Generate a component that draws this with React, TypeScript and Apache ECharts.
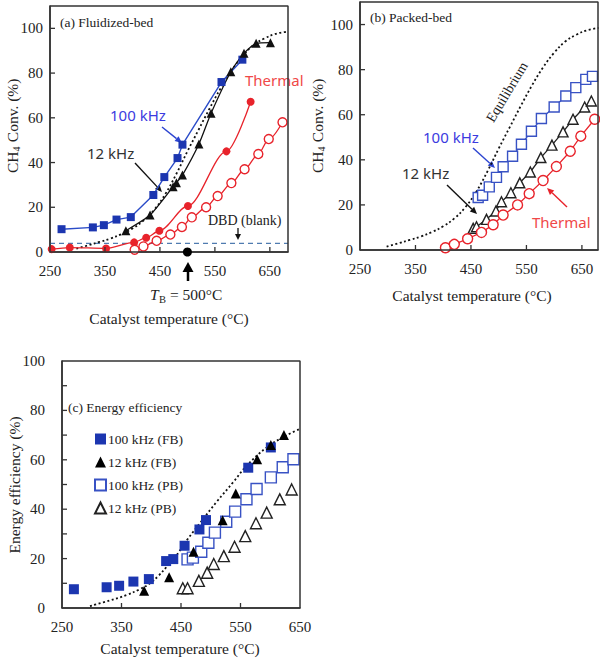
import React, { useEffect, useRef } from "react";
import * as echarts from "echarts";

// ---------- data ----------
// equilibrium CH4 conversion (dotted)
const eqT = [298, 320, 340, 360, 380, 400, 420, 440, 460, 480, 500, 520, 540, 560, 580, 600, 620, 640, 660, 680];
const eqV = [1.5, 3, 4.5, 6, 8, 10.5, 14, 19, 26, 35, 45, 54.5, 64, 73, 81, 87.5, 92.5, 95.5, 97.5, 98.5];

// (a) fluidized bed
const fb100T = [271, 328, 348, 371, 397, 438, 458, 482, 491, 562, 600];
const fb100V = [10.2, 11, 12, 14.5, 15.6, 25.5, 33.5, 42, 48, 76, 86];
const fb12T = [388, 432, 474, 480, 491, 521, 543, 579, 603, 625, 651];
const fb12V = [9.5, 16.5, 29.2, 31, 34.4, 48.3, 62, 80.6, 88.9, 93.3, 93.6];
const fbThT = [253, 286, 352, 403, 425, 449, 501, 571, 615];
const fbThV = [1.3, 2, 1.6, 4.3, 6.4, 9.5, 20.6, 45, 67.2];
const dbdLevel = 3.9;
const tbPoint = [500, 0];

// packed bed (thermal, open circles) used in (a) and (b)
const pbThT = [404, 420, 444, 469, 490, 508, 534, 555, 580, 604, 629, 648, 673];
const pbThV = [1, 2.5, 5, 7.8, 11.2, 15.5, 20, 25, 30.8, 37, 43.8, 50.5, 58];
// (b) packed bed
const pb12T = [454, 460, 478, 495, 505, 522, 538, 557, 576, 596, 616, 634, 655, 667];
const pb12V = [9.6, 10.3, 13.6, 17.3, 21.4, 25.4, 29.8, 34.6, 41, 46.5, 52.4, 58, 63.4, 66.1];
const pb100T = [463, 471, 483, 496, 508, 525, 541, 559, 577, 600, 621, 639, 657, 669];
const pb100V = [23.3, 24.3, 28, 32.2, 36.9, 41.6, 46.9, 52.7, 58.3, 63.4, 68.3, 72, 75.7, 77];

// (c) energy efficiency
const effEqT = [297, 330, 359, 380, 398, 412, 426, 443, 460, 482, 510, 538, 560, 594, 628, 650];
const effEqV = [0.8, 3, 5.3, 7.5, 10, 13, 16.7, 21.5, 27.5, 34.4, 43, 51, 57.5, 65, 70, 72.5];
const ef100fbT = [270, 325, 346, 370, 396, 425, 437, 456, 481, 492, 563, 601];
const ef100fbV = [7.6, 8.4, 9, 10.7, 11.7, 19, 19.8, 25.2, 31.8, 35.6, 56.8, 65];
const ef12fbT = [388, 430, 471, 520, 542, 578, 601, 623];
const ef12fbV = [7, 12.4, 22.8, 35.5, 46.4, 60.2, 66, 70];
const ef100pbT = [461, 470, 484, 496, 507, 526, 541, 560, 577, 601, 621, 639];
const ef100pbV = [19.7, 20.4, 22.8, 26.4, 30.5, 34.9, 39, 44, 48.2, 52.9, 57, 60.2];
const ef12pbT = [453, 461, 480, 494, 505, 522, 540, 558, 576, 594, 616, 636];
const ef12pbV = [8, 8, 11, 14.3, 17.8, 21, 24.8, 29.1, 34.3, 38.6, 44, 48];

const xLabelVals = [250, 350, 450, 550, 650];
const xTickVals = [350, 450, 550, 650];
const yTickValsAB = [20, 40, 60, 80, 100];
const yTickValsC = [10, 20, 30, 40, 50, 60, 70, 80, 90];

const legendNames = ["100 kHz (FB)", "12 kHz (FB)", "100 kHz (PB)", "12 kHz (PB)"];

const zip = (a: number[], b: number[]) => a.map((v, i) => [v, b[i]]);

const SERIF = "'Liberation Serif', 'Times New Roman', serif";
const SANS = "'Noto Sans', 'DejaVu Sans', sans-serif";
const BLUE = "#1c36b0";
const BLUE_LINE = "#2b4cc8";
const BLUE_OPEN = "#3852c4";
const RED = "#e8232b";
const BLACK = "#111";
const FRAME = "#333333";

const GRIDS = [
  { left: 50, top: 6, width: 238, height: 246 },
  { left: 360, top: 2, width: 238, height: 248 },
  { left: 62, top: 361, width: 238, height: 247 },
];
const X_RANGE = [[250, 683], [250, 679], [250, 650]];
const Y_RANGE = [[0, 110], [0, 110], [0, 100]];
const Y_TICKS = [yTickValsAB, yTickValsAB, yTickValsC];

function arrow(x1: number, y1: number, x2: number, y2: number, color: string, head = 7, w = 1.3, hw = 0.45) {
  const a = Math.atan2(y2 - y1, x2 - x1);
  const c = Math.cos(a), s = Math.sin(a);
  const bx = x2 - head * c, by = y2 - head * s;
  const px = -s * head * hw, py = c * head * hw;
  const qx = -s * w * 0.5, qy = c * w * 0.5;
  return [
    { type: "polygon", shape: { points: [[x1 + qx, y1 + qy], [bx + qx, by + qy], [bx - qx, by - qy], [x1 - qx, y1 - qy]] }, style: { fill: color } },
    { type: "polygon", shape: { points: [[x2, y2], [bx + px, by + py], [bx - px, by - py]] }, style: { fill: color } },
  ];
}

function txt(x: number, y: number, text: string, font: string, size: number, color = "#222", align = "left", extra: any = {}) {
  return {
    type: "text",
    x,
    y,
    ...extra,
    style: { text, fontFamily: font, fontSize: size, fill: color, align, verticalAlign: "middle", ...(extra.style || {}) },
  };
}

function ch4Title(x: number, y: number) {
  return {
    type: "group",
    x,
    y,
    rotation: Math.PI / 2,
    children: [
      txt(-48, 0, "CH", SERIF, 15.5),
      txt(-26.5, 4, "4", SERIF, 10),
      txt(-21, 0, " Conv. (%)", SERIF, 15.5),
    ],
  };
}

function xAxisCfg(grid: number) {
  return {
    type: "value",
    gridIndex: grid,
    min: X_RANGE[grid][0],
    max: X_RANGE[grid][1],
    splitLine: { show: false },
    axisLine: { show: true, onZero: false, lineStyle: { color: FRAME, width: 1.5 } },
    axisTick: { show: false },
    axisLabel: { customValues: xLabelVals, margin: 11, fontFamily: SERIF, fontSize: 15, color: "#222" },
  };
}

function yAxisCfg(grid: number, margin: number, interval: number) {
  return {
    type: "value",
    gridIndex: grid,
    min: Y_RANGE[grid][0],
    max: Y_RANGE[grid][1],
    interval,
    splitLine: { show: false },
    axisLine: { show: true, onZero: false, lineStyle: { color: FRAME, width: 1.5 } },
    axisTick: { show: false },
    axisLabel: {
      margin,
      fontFamily: SERIF,
      fontSize: 15,
      color: "#222",
      formatter: (v: number) => (v > 100 || v % 20 !== 0 ? "" : String(v)),
    },
  };
}

const openStyle = (c: string) => ({ color: "#fff", borderColor: c, borderWidth: 1.4, opacity: 1 });

// frame (box) and inward ticks of each panel drawn as series in the panel's own axes
function frameSeries(i: number) {
  const [x0, x1] = X_RANGE[i];
  const [y0, y1] = Y_RANGE[i];
  return [
    {
      name: "frame" + i, type: "line", xAxisIndex: i, yAxisIndex: i, silent: true, clip: false, symbol: "none",
      data: [[x0, y0], [x1, y0], [x1, y1], [x0, y1], [x0, y0]],
      lineStyle: { color: FRAME, width: 1.5 }, z: 10,
    },
    {
      name: "xt" + i, type: "scatter", xAxisIndex: i, yAxisIndex: i, silent: true, clip: false,
      data: xTickVals.filter((v) => v < x1).map((v) => [v, y0]),
      symbol: "rect", symbolSize: [1.3, 5], symbolOffset: [0, -2.5],
      itemStyle: { color: FRAME, opacity: 1 }, z: 10,
    },
    {
      name: "yt" + i, type: "scatter", xAxisIndex: i, yAxisIndex: i, silent: true, clip: false,
      data: Y_TICKS[i].map((v) => [x0, v]),
      symbol: "rect", symbolSize: [5, 1.3], symbolOffset: [2.5, 0],
      itemStyle: { color: FRAME, opacity: 1 }, z: 10,
    },
  ];
}

export default function App() {
  const ref = useRef<HTMLDivElement>(null);
  useEffect(() => {
    if (!ref.current) return;
    const chart = echarts.init(ref.current, null, { renderer: "svg" });

    const series: any[] = [
      ...frameSeries(0),
      ...frameSeries(1),
      ...frameSeries(2),
      // ---- (a) ----
      {
        name: "eqA", type: "line", xAxisIndex: 0, yAxisIndex: 0, data: zip(eqT, eqV), smooth: 0.4, symbol: "none",
        lineStyle: { color: BLACK, width: 1.8, type: [2, 2.5] }, z: 2,
      },
      {
        name: "dbd", type: "line", xAxisIndex: 0, yAxisIndex: 0, data: [[X_RANGE[0][0], dbdLevel], [X_RANGE[0][1], dbdLevel]], symbol: "none",
        lineStyle: { color: "#4f7bb0", width: 1.2, type: [5, 4] }, z: 1,
      },
      {
        name: "fb100", type: "line", xAxisIndex: 0, yAxisIndex: 0, data: zip(fb100T, fb100V), symbol: "rect", symbolSize: 8,
        itemStyle: { color: BLUE }, lineStyle: { color: BLUE_LINE, width: 1.4 }, z: 4,
      },
      {
        name: "fb12", type: "line", xAxisIndex: 0, yAxisIndex: 0, data: zip(fb12T, fb12V), symbol: "triangle", symbolSize: 9,
        smooth: 0.2, itemStyle: { color: BLACK }, lineStyle: { color: BLACK, width: 1.3 }, z: 4,
      },
      {
        name: "fbTh", type: "line", xAxisIndex: 0, yAxisIndex: 0, data: zip(fbThT, fbThV), symbol: "circle", symbolSize: 8,
        smooth: 0.3, smoothMonotone: "x", itemStyle: { color: RED }, lineStyle: { color: RED, width: 1.3 }, z: 4, clip: false,
      },
      {
        name: "pbThA", type: "line", xAxisIndex: 0, yAxisIndex: 0, data: zip(pbThT, pbThV), symbol: "circle", symbolSize: 9,
        smooth: 0.3, smoothMonotone: "x", itemStyle: openStyle(RED), lineStyle: { color: RED, width: 1.3 }, z: 4,
      },
      {
        name: "tb", type: "scatter", xAxisIndex: 0, yAxisIndex: 0, data: [tbPoint], symbol: "circle", symbolSize: 9,
        itemStyle: { color: "#000", opacity: 1 }, clip: false, z: 12,
      },
      // ---- (b) ----
      {
        name: "eqB", type: "line", xAxisIndex: 1, yAxisIndex: 1, data: zip(eqT, eqV), smooth: 0.4, symbol: "none",
        lineStyle: { color: BLACK, width: 1.8, type: [2, 2.5] }, z: 2,
      },
      {
        name: "pb100", type: "line", xAxisIndex: 1, yAxisIndex: 1, data: zip(pb100T, pb100V), symbol: "rect", symbolSize: 10,
        itemStyle: openStyle(BLUE_OPEN), lineStyle: { color: BLUE_OPEN, width: 1.3 }, z: 4,
      },
      {
        name: "pb12", type: "line", xAxisIndex: 1, yAxisIndex: 1, data: zip(pb12T, pb12V), symbol: "triangle", symbolSize: 10,
        itemStyle: openStyle("#222"), lineStyle: { color: "#222", width: 1.3 }, z: 4,
      },
      {
        name: "pbThB", type: "line", xAxisIndex: 1, yAxisIndex: 1, data: zip(pbThT, pbThV), symbol: "circle", symbolSize: 10,
        itemStyle: openStyle(RED), lineStyle: { color: RED, width: 1.3 }, z: 4,
      },
      // ---- (c) ----
      {
        name: "effEq", type: "line", xAxisIndex: 2, yAxisIndex: 2, data: zip(effEqT, effEqV), smooth: 0.4, symbol: "none",
        lineStyle: { color: BLACK, width: 1.8, type: [2, 2.5] }, z: 2,
      },
      {
        name: legendNames[0], type: "scatter", xAxisIndex: 2, yAxisIndex: 2, data: zip(ef100fbT, ef100fbV), symbol: "rect",
        symbolSize: 10, itemStyle: { color: BLUE, opacity: 1 }, z: 4,
      },
      {
        name: legendNames[1], type: "scatter", xAxisIndex: 2, yAxisIndex: 2, data: zip(ef12fbT, ef12fbV), symbol: "triangle",
        symbolSize: 10, itemStyle: { color: "#000", opacity: 1 }, z: 5,
      },
      {
        name: legendNames[2], type: "scatter", xAxisIndex: 2, yAxisIndex: 2, data: zip(ef100pbT, ef100pbV), symbol: "rect",
        symbolSize: 11, itemStyle: openStyle(BLUE_OPEN), z: 4,
      },
      {
        name: legendNames[3], type: "scatter", xAxisIndex: 2, yAxisIndex: 2, data: zip(ef12pbT, ef12pbV), symbol: "triangle",
        symbolSize: 11, itemStyle: openStyle("#222"), z: 4,
      },
    ];

    const annotations: any[] = [
      // (a)
      txt(60, 22, "(a) Fluidized-bed", SERIF, 13.5),
      txt(110, 115, "100 kHz", SANS, 15, "#3b3be0"),
      ...arrow(162, 127, 182, 143, "#2c44d0", 7, 1.4),
      txt(87, 153, "12 kHz", SANS, 15, "#333"),
      ...arrow(135, 163, 162, 192, "#111", 7, 1.4),
      txt(245, 80, "Thermal", SANS, 15, "#f04848"),
      txt(208, 220, "DBD (blank)", SERIF, 14),
      ...arrow(238, 228, 238, 240, "#111", 6, 1.3, 0.5),
      ...arrow(188, 281, 188, 262, "#000", 10, 2.5, 0.55),
      txt(150, 294, "T", SERIF, 15.5, "#222", "left", { style: { fontStyle: "italic" } }),
      txt(159, 299, "B", SERIF, 10.5),
      txt(166, 294, " = 500°C", SERIF, 15.5),
      txt(169, 318, "Catalyst temperature (°C)", SERIF, 15.5, "#222", "center"),
      ch4Title(12, 125),
      // (b)
      txt(370, 17, "(b) Packed-bed", SERIF, 13.5),
      txt(507, 92, "Equilibrium", SERIF, 14, "#222", "center", { rotation: (59 * Math.PI) / 180 }),
      txt(423, 137, "100 kHz", SANS, 15, "#3b3be0"),
      ...arrow(473, 148, 495, 168, "#2c44d0", 7, 1.4),
      txt(402, 173, "12 kHz", SANS, 15, "#333"),
      ...arrow(447, 185, 477, 214, "#111", 7, 1.4),
      txt(532, 222, "Thermal", SANS, 15, "#f04848"),
      ...arrow(567, 207, 547, 188, "#e8232b", 7, 1.4),
      txt(472, 295, "Catalyst temperature (°C)", SERIF, 15.5, "#222", "center"),
      ch4Title(317, 125),
      // (c)
      txt(68, 407, "(c) Energy efficiency", SERIF, 13.5),
      txt(14, 485, "Energy efficiency (%)", SERIF, 15.5, "#222", "center", { rotation: Math.PI / 2 }),
      txt(180, 648, "Catalyst temperature (°C)", SERIF, 15.5, "#222", "center"),
    ];

    chart.setOption({
      animation: false,
      grid: GRIDS.map((g) => ({ ...g, show: false })),
      xAxis: [xAxisCfg(0), xAxisCfg(1), xAxisCfg(2)],
      yAxis: [yAxisCfg(0, 7, 20), yAxisCfg(1, 7, 20), yAxisCfg(2, 17, 10)],
      legend: {
        data: legendNames,
        orient: "vertical",
        left: 89,
        top: 427,
        itemGap: 9,
        itemWidth: 11,
        itemHeight: 11,
        selectedMode: false,
        textStyle: { fontFamily: SERIF, fontSize: 13.5, color: "#222", padding: [0, 0, 0, -3] },
      },
      series,
      graphic: annotations,
    });
    return () => chart.dispose();
  }, []);
  return <div ref={ref} style={{ position: "absolute", left: 0, top: 0, width: 600, height: 658 }} />;
}
